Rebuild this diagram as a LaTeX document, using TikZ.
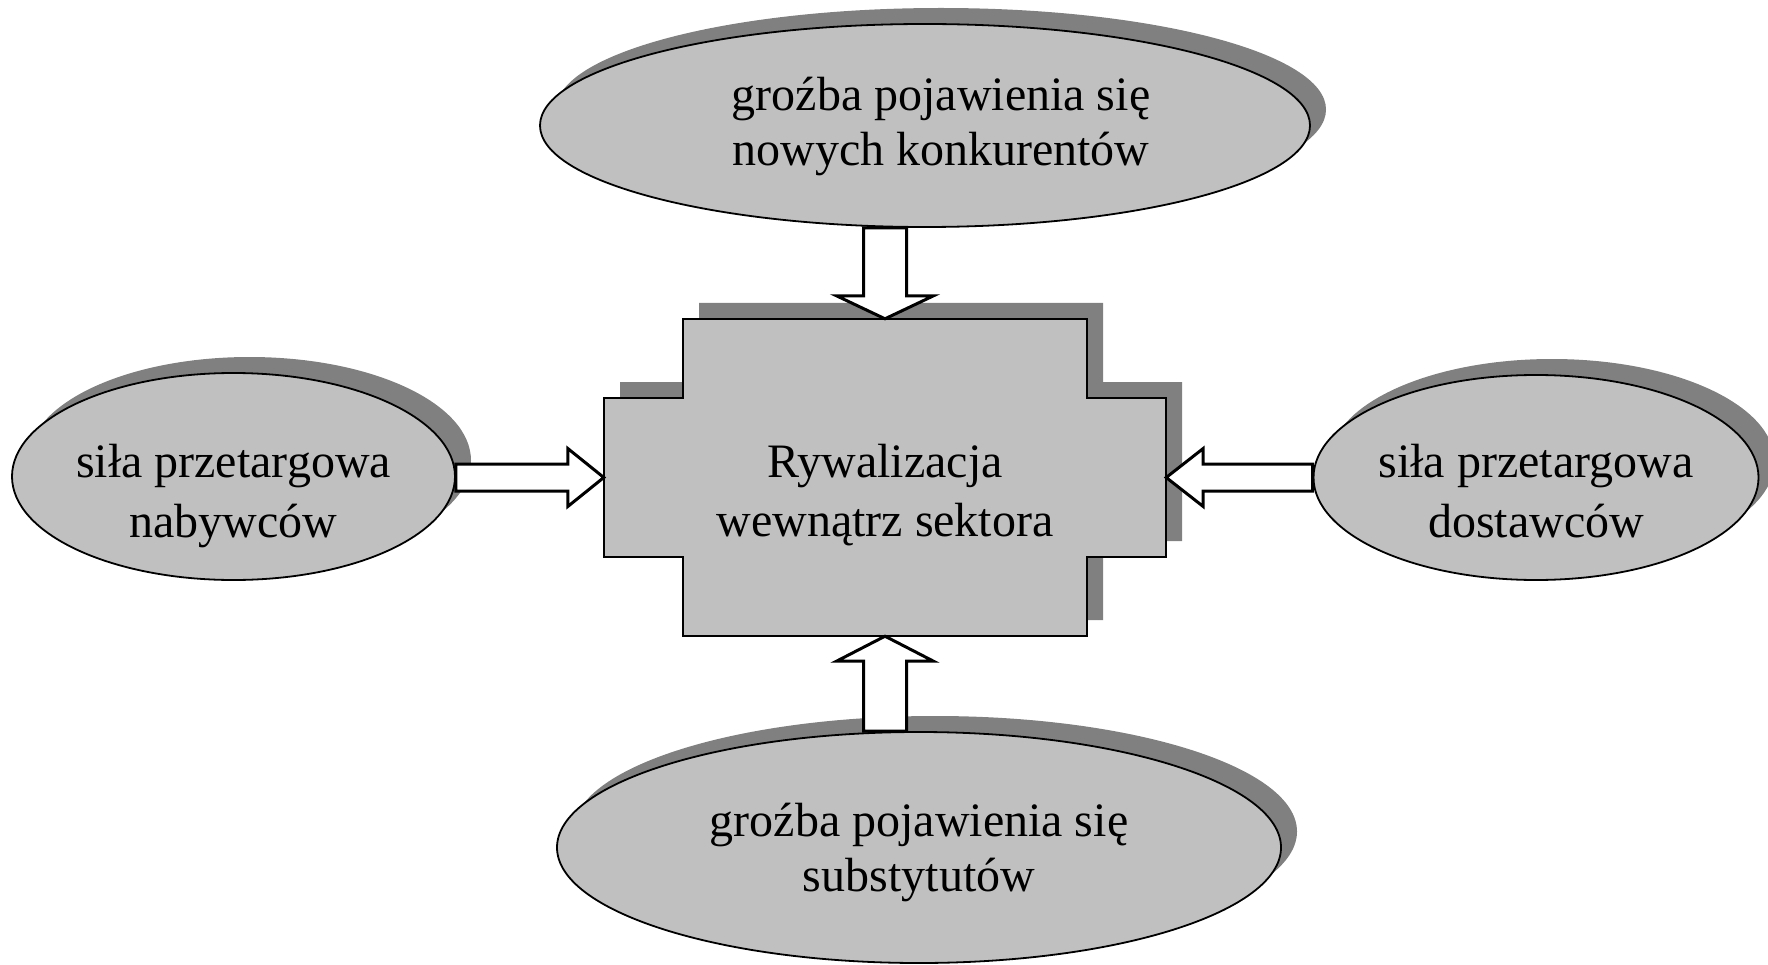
\documentclass[tikz,border=0pt]{standalone}
\usepackage{fontspec}
\setmainfont{Liberation Serif}
\usetikzlibrary{shapes.geometric,calc,shadows}
\definecolor{boxgray}{RGB}{192,192,192}
\definecolor{shadegray}{RGB}{128,128,128}
\tikzset{
  txt/.style={align=center, inner sep=0pt, font=\fontsize{48}{#1}\selectfont},
  txt/.default=55,
  ell/.style={ellipse, draw=black, line width=1.8pt, fill=boxgray, inner sep=0pt,
    drop shadow={shadow xshift=16pt, shadow yshift=16pt, fill=shadegray, opacity=1}},
  crossline/.style={draw=black, line width=2.2pt, fill=boxgray, line join=miter},
  crossshade/.style={fill=shadegray},
  blockarrow/.style={draw=black, fill=white, line width=3pt, line join=miter},
}
\newcommand{\vblock}[3]{%
  \draw[blockarrow] let \p1=(#1), \p2=(#2) in
    ({\x2-21.5pt},{\y1}) -- ({\x2-21.5pt},{\y2+#3}) -- ({\x2-48.5pt},{\y2+#3}) -- (\x2,\y2)
    -- ({\x2+48.5pt},{\y2+#3}) -- ({\x2+21.5pt},{\y2+#3}) -- ({\x2+21.5pt},{\y1}) -- cycle;}
\newcommand{\hblock}[3]{%
  \draw[blockarrow] let \p1=(#1), \p2=(#2) in
    ({\x1},{\y2-13.5pt}) -- ({\x2+#3},{\y2-13.5pt}) -- ({\x2+#3},{\y2-29pt}) -- (\x2,\y2)
    -- ({\x2+#3},{\y2+29pt}) -- ({\x2+#3},{\y2+13.5pt}) -- ({\x1},{\y2+13.5pt}) -- cycle;}
\newcommand{\crosspath}{(-202,-158.5) -- (202,-158.5) -- (202,-79.5) -- (281,-79.5)
  -- (281,79.5) -- (202,79.5) -- (202,158.5) -- (-202,158.5) -- (-202,79.5)
  -- (-281,79.5) -- (-281,-79.5) -- (-202,-79.5) -- cycle}
\begin{document}
\begin{tikzpicture}[x=1pt, y=-1pt]
  \useasboundingbox (0,0) rectangle (1768,965);
  % ellipses
  \node[ell, minimum width=770pt, minimum height=203pt] (E1) at (925,125.5) {};
  \node[ell, minimum width=443pt, minimum height=207pt] (E2) at (233.5,476.5) {};
  \node[ell, minimum width=445pt, minimum height=205pt] (E3) at (1536,477.5) {};
  \node[ell, minimum width=724pt, minimum height=231pt] (E4) at (919,847.5) {};
  \node[txt=54.5] (T1) at (941,126.9)
    {\strut groźba pojawienia się\\\strut nowych konkurentów};
  \node[txt=60] (T2) at (233.5,495.5)
    {\strut siła przetargowa\\\strut nabywców};
  \node[txt=60] (T3) at (1536,495.5)
    {\strut siła przetargowa\\\strut dostawców};
  \node[txt=55] (T4) at (919,853)
    {\strut groźba pojawienia się\\\strut substytutów};
  % central cross
  \coordinate (Cc) at (885,477.5);
  \begin{scope}[shift={(Cc)}]
    \begin{scope}[shift={(16,-16)}]
      \fill[crossshade] \crosspath;
    \end{scope}
    \path[crossline] \crosspath;
  \end{scope}
  \node[inner sep=0pt, minimum width=562pt, minimum height=317pt] (C) at (Cc) {};
  \node[txt=59] (TC) at (885,495.2)
    {\strut Rywalizacja\\\strut wewnątrz sektora};
  % block arrows
  \vblock{E1.south}{C.north}{0+23pt}
  \vblock{E4.north}{C.south}{0-25pt}
  \hblock{E2.east}{C.west}{0-36pt}
  \hblock{E3.west}{C.east}{0+37pt}
\end{tikzpicture}
\end{document}
